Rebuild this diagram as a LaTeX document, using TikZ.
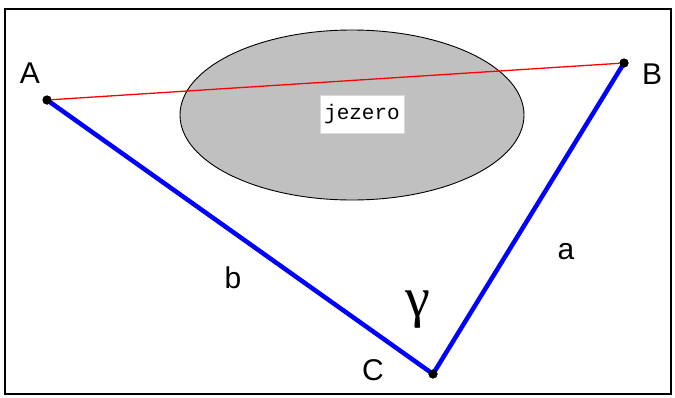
\documentclass[tikz,border=0pt]{standalone}
\usepackage{fontspec}
\setmainfont{Liberation Sans}
\newfontfamily\jezerofont{Liberation Mono}
\newfontfamily\greekfont{Liberation Serif}
\definecolor{lakegray}{RGB}{192,192,192}
\begin{document}
\begin{tikzpicture}[x=1pt, y=-1pt,
            vertex/.style={circle, fill=black, minimum size=9pt, inner sep=0pt},
            side/.style={draw=blue, line width=4.5pt},
            lbl/.style={font=\fontsize{30}{30}\selectfont}
        ]
            \useasboundingbox (0,0) rectangle (675,397);
            \draw[line width=1.6pt] (5,9) rectangle (671,394);
            \draw[fill=lakegray, line width=0.9pt] (352,115) ellipse [x radius=172, y radius=85];
            \node[vertex] (A) at (47,100) {};
            \node[vertex] (B) at (624,63) {};
            \node[vertex] (C) at (433,374) {};
            \draw[red, line width=1.3pt] (A)--(B);
            \node[fill=white, draw=lakegray!60, line width=0.5pt, font=\jezerofont\fontsize{21}{21}\selectfont,
                  inner xsep=4pt, inner ysep=9pt] (lake) at (362,114) {jezero};
            \draw[side] (A.center)--(C.center)--(B.center);
            \node[vertex] at (A) {};
            \node[vertex] at (B) {};
            \node[vertex] at (C) {};
            \node[lbl] (lA) at (30,73) {A};
            \node[lbl] (lB) at (652,74) {B};
            \node[lbl] (lC) at (373,370) {C};
            \node[lbl] (la) at (566,252) {a};
            \node[lbl] (lb) at (233,278) {b};
            \node[font=\greekfont\fontsize{56}{56}\selectfont] (lg) at (418,310) {γ};
        \end{tikzpicture}
\end{document}
